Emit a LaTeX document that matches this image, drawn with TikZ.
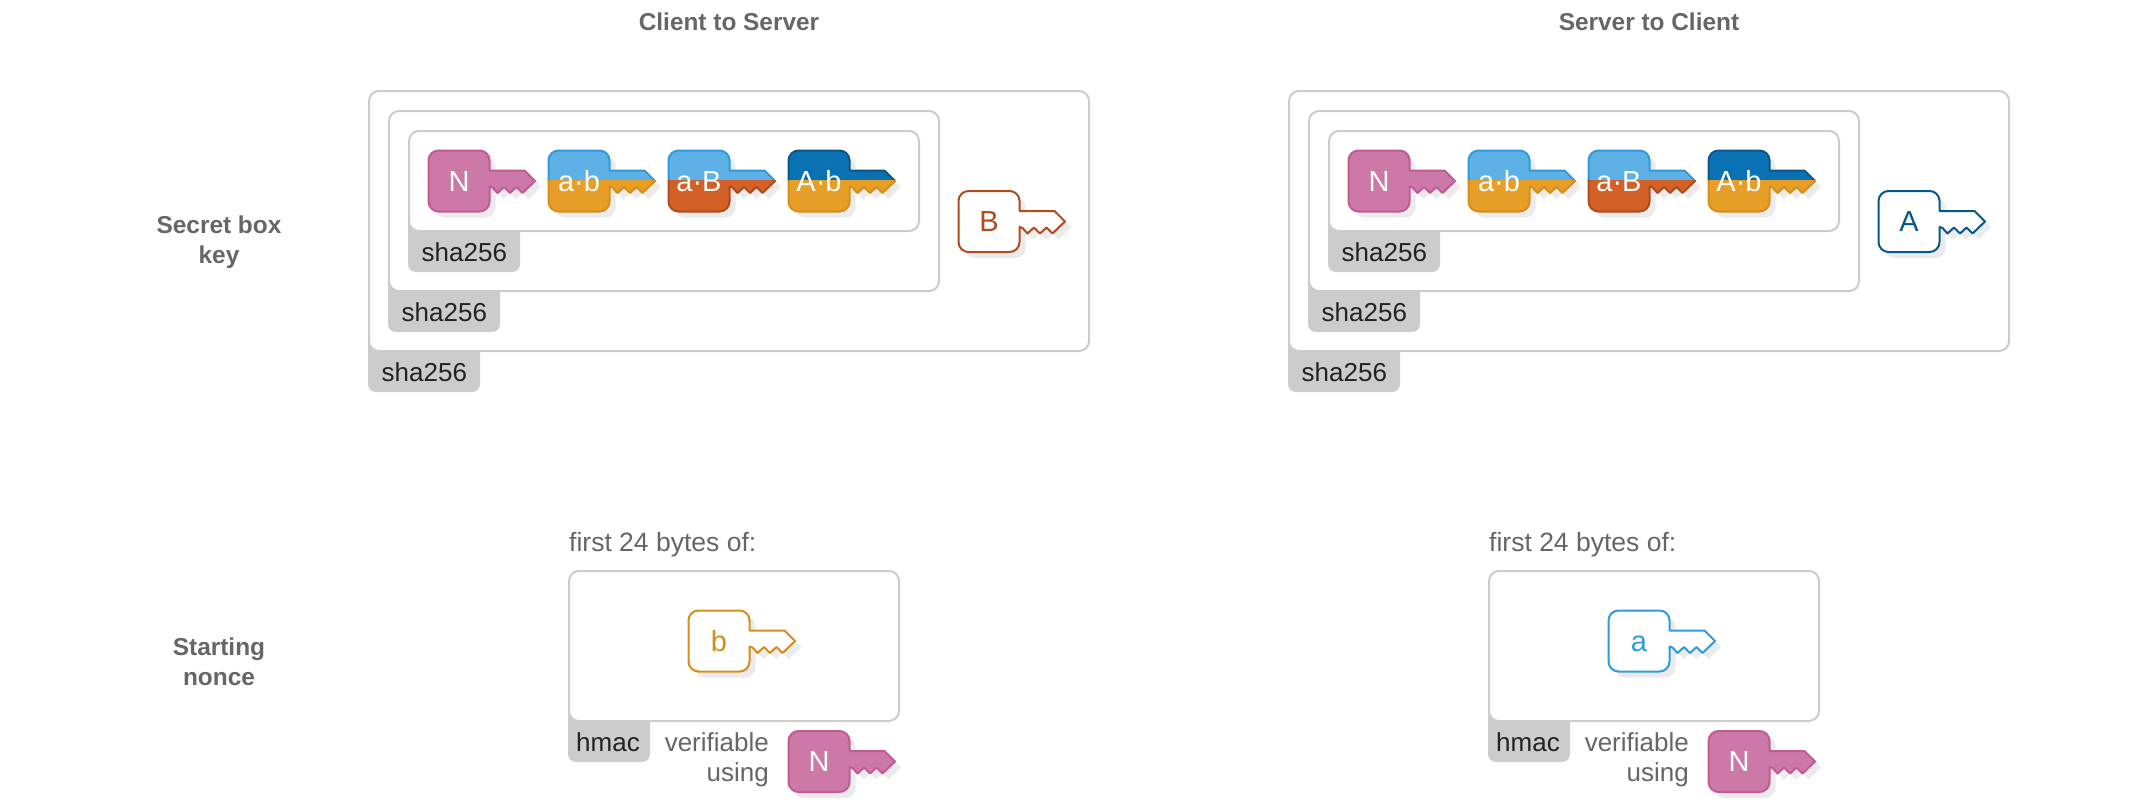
\documentclass[tikz,border=0pt]{standalone}
\usepackage{fontspec}
\setmainfont{Liberation Sans}
\definecolor{boxline}{HTML}{CCCCCC}
\definecolor{tabfill}{HTML}{CCCCCC}
\definecolor{shadowc}{HTML}{EBEBEB}
\definecolor{labelc}{HTML}{666666}
\definecolor{tabtext}{HTML}{222222}
\definecolor{pinkf}{HTML}{CC79A7}
\definecolor{pinkl}{HTML}{C25A95}
\definecolor{bluef}{HTML}{5EB1E7}
\definecolor{bluel}{HTML}{2E9BDF}
\definecolor{orangef}{HTML}{E69E26}
\definecolor{orangel}{HTML}{D58E1A}
\definecolor{redf}{HTML}{D26027}
\definecolor{redl}{HTML}{AE4B1F}
\definecolor{navyf}{HTML}{0A72B2}
\definecolor{navyl}{HTML}{06578A}
\tikzset{
  x=1pt, y=-1pt,
  boxstyle/.style={draw=boxline, line width=2pt, fill=white, rounded corners=10pt},
  tabstyle/.style={fill=tabfill, rounded corners=8pt},
  tabtxt/.style={anchor=base west, inner sep=0pt, text=tabtext, font=\fontsize{26}{30}\selectfont},
  headtxt/.style={anchor=base, inner sep=0pt, text=labelc, font=\fontsize{24.4}{30}\bfseries\selectfont},
  sidetxt/.style={align=center, anchor=north, inner sep=0pt, text=labelc, font=\fontsize{24.4}{30}\bfseries\selectfont},
  grytxt/.style={anchor=base, inner sep=0pt, text=labelc, font=\fontsize{26}{30}\selectfont},
  firsttxt/.style={anchor=base west, inner sep=0pt, text=labelc, font=\fontsize{26.5}{30}\selectfont},
  keytxt/.style={anchor=base, inner sep=0pt, font=\fontsize{29}{30}\selectfont},
}
% key outline, body top-left at the origin
\newcommand{\keyoutline}{[rounded corners=10pt] (30,0) -- (61,0) [sharp corners] -- (61,20) -- (96,20) -- (106.5,30.5) -- (94,42.5) -- (88,36.5) -- (81.5,42.5) -- (75.5,36.5) -- (69,42.5) -- (64,37) -- (61,36) [rounded corners=10pt] -- (61,61) -- (0,61) -- (0,0) -- cycle}
% one-colour key: #1 name #2 x #3 y #4 fill #5 line #6 text colour #7 text
\newcommand{\plainkey}[7]{%
  \begin{scope}[shift={(#2+0.5,#3+0.5)}]
    \fill[shadowc,shift={(6,6)}] \keyoutline;
    \draw[fill=#4,draw=#5,line width=2pt,line join=round] \keyoutline;
    \node[keytxt,text=#6] (#1) at (30.5,40.5) {#7};
  \end{scope}}
% two-colour key: #1 name #2 x #3 y #4 top fill #5 top line #6 bottom fill #7 bottom line #8 text
\newcommand{\splitkey}[8]{%
  \begin{scope}[shift={(#2+0.5,#3+0.5)}]
    \fill[shadowc,shift={(6,6)}] \keyoutline;
    \begin{scope}
      \clip (-3,-3) rectangle (112,30);
      \draw[fill=#4,draw=#5,line width=2pt,line join=round] \keyoutline;
    \end{scope}
    \begin{scope}
      \clip (-3,30) rectangle (112,66);
      \draw[fill=#6,draw=#7,line width=2pt,line join=round] \keyoutline;
    \end{scope}
    \node[keytxt,text=white] (#1) at (30.5,40.5) {#8};
  \end{scope}}
% framed box with a tab: #1 name #2 left #3 top #4 right #5 bottom
\newcommand{\shabox}[5]{%
  \fill[tabstyle] (#2-1,#5-14) -- (#2-1,#5+41) -- (#2+111,#5+41) -- (#2+111,#5-14) -- cycle;
  \draw[boxstyle] (#2,#3) rectangle (#4,#5);
  \node[tabtxt] (#1) at (#2+12.5,#5+30) {sha256};}
\begin{document}
\begin{tikzpicture}
\useasboundingbox (0,0) rectangle (2144,800);
\fill[white] (0,0) rectangle (2144,800);
\node[sidetxt] (secret) at (219,216) {Secret box\\key};
\node[sidetxt] (nonce) at (219,638) {Starting\\nonce};
\foreach \dx/\hd/\lastc/\lastk/\smallc/\smallk/\nm in
  {0/Client to Server/redl/B/orangel/b/c,
   920/Server to Client/navyl/A/bluel/a/s}{
  \begin{scope}[shift={(\dx,0)}]
    \node[headtxt] (head\nm) at (729,31) {\hd};
    \shabox{shaO\nm}{369}{91}{1089}{351}
    \shabox{shaM\nm}{389}{111}{939}{291}
    \shabox{shaI\nm}{409}{131}{919}{231}
    \plainkey{n\nm}{428}{150}{pinkf}{pinkl}{white}{N}
    \splitkey{ab\nm}{548}{150}{bluef}{bluel}{orangef}{orangel}{a·b}
    \splitkey{aB\nm}{668}{150}{bluef}{bluel}{redf}{redl}{a·B}
    \splitkey{Ab\nm}{788}{150}{navyf}{navyl}{orangef}{orangel}{A·b}
    \plainkey{last\nm}{958}{190.5}{white}{\lastc}{\lastc}{\lastk}
    \node[firsttxt] (first\nm) at (569,551) {first 24 bytes of:};
    \fill[tabstyle] (568,707) -- (568,762) -- (650,762) -- (650,707) -- cycle;
    \draw[boxstyle] (569,571) rectangle (899,721);
    \node[tabtxt] (hmac\nm) at (576,751) {hmac};
    \plainkey{small\nm}{688}{610}{white}{\smallc}{\smallc}{\smallk}
    \node[grytxt,anchor=base east] (ver\nm) at (769,751) {verifiable};
    \node[grytxt,anchor=base east] (using\nm) at (769,781) {using};
    \plainkey{nb\nm}{788}{730.5}{pinkf}{pinkl}{white}{N}
  \end{scope}}
\end{tikzpicture}
\end{document}
